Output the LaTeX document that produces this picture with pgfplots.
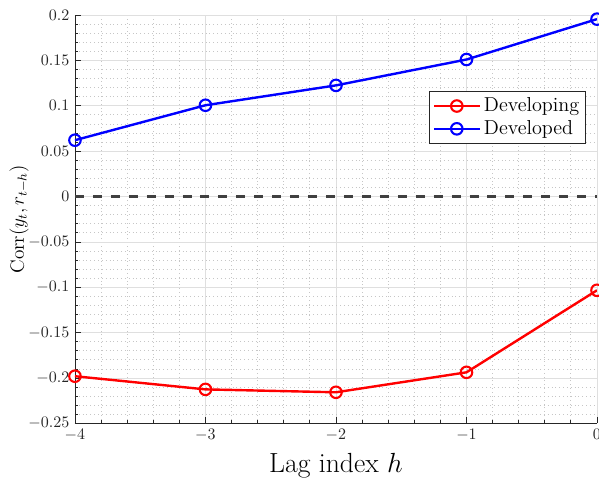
\documentclass[border=0pt]{standalone}
\usepackage{pgfplots}
\pgfplotsset{compat=1.18}
\definecolor{axgray}{rgb}{0.15,0.15,0.15}
\definecolor{zerogray}{rgb}{0.25,0.25,0.25}
\begin{document}
\begin{tikzpicture}
\begin{axis}[
  name=ax,
  scale only axis,
  width=326pt, height=255pt,
  xmin=-4, xmax=0, ymin=-0.25, ymax=0.2,
  axis lines*=left,
  axis line style={axgray, line width=0.5pt},
  xtick={-4,-3,-2,-1,0},
  ytick={-0.25,-0.2,-0.15,-0.1,-0.05,0,0.05,0.1,0.15,0.2},
  minor x tick num=4, minor y tick num=4,
  tick align=inside,
  tick style={axgray, line width=0.5pt},
  major tick length=4pt, minor tick length=2pt,
  grid=both,
  major grid style={gray!25, line width=0.5pt},
  minor grid style={gray!45, dotted, line width=0.5pt},
  scaled y ticks=false,
  yticklabel style={/pgf/number format/fixed, /pgf/number format/precision=2},
  ticklabel style={font=\normalsize, text=axgray},
  xlabel={\LARGE Lag index $h$},
  ylabel={\large Corr$(y_t,r_{t-h})$},
  xlabel style={yshift=-1pt},
  ylabel style={yshift=-7pt},
  legend style={at={(0.979,0.814)}, anchor=north east, draw=axgray, line width=0.5pt,
    font=\fontsize{12.6}{15}\selectfont, inner xsep=2pt, inner ysep=2pt},
  legend cell align=left,
  legend image code/.code={\draw[mark repeat=2,mark phase=2] plot coordinates {(0cm,0cm) (0.5cm,0cm) (1cm,0cm)};},
  every axis plot/.append style={line width=1.5pt, mark=o, mark size=3.6pt, mark options={line width=1.3pt}},
]
\addplot[red] coordinates {(-4,-0.198) (-3,-0.2125) (-2,-0.2157) (-1,-0.1937) (0,-0.1033)};
\addlegendentry{Developing}
\addplot[blue] coordinates {(-4,0.0621) (-3,0.1006) (-2,0.1225) (-1,0.151) (0,0.1955)};
\addlegendentry{Developed}
\addplot[zerogray, line width=1.8pt, dash pattern=on 5.6pt off 5.6pt, mark=none, forget plot] coordinates {(-4,0) (0,0)};
\end{axis}
\pgfresetboundingbox
\path[use as bounding box] ([shift={(-46.8pt,-33.7pt)}]ax.south west) rectangle ([shift={(1.25pt,9.4pt)}]ax.north east);
\end{tikzpicture}
\end{document}
